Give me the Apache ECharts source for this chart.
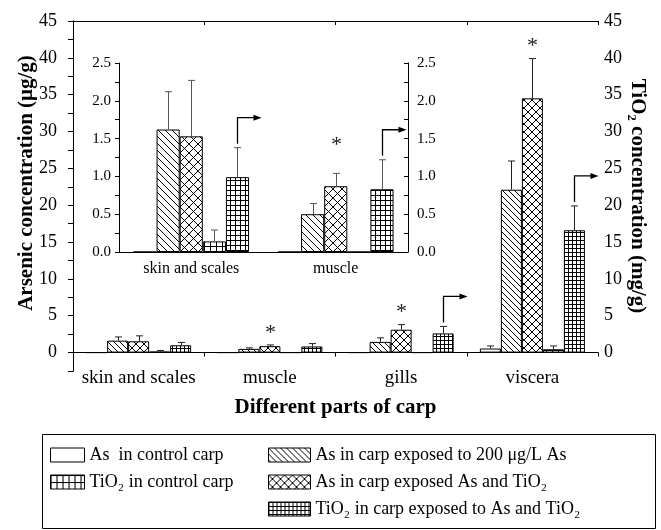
<!DOCTYPE html>
<html><head><meta charset="utf-8">
<script src="https://cdn.jsdelivr.net/npm/echarts@6/dist/echarts.min.js"></script>
<style>html,body{margin:0;padding:0;background:#fff}#c{width:661px;height:530px}</style>
</head><body><div id="c"></div>
<script>
// ---------------- data ----------------
const categories = ['skin and scales', 'muscle', 'gills', 'viscera'];
const insetCategories = ['skin and scales', 'muscle'];
const seriesNames = [
  'As  in control carp',
  'As in carp exposed to 200 μg/L As',
  'As in carp exposed As and TiO₂',
  'TiO₂ in control carp',
  'TiO₂ in carp exposed to As and TiO₂'
];
// mean values (As in μg/g, TiO2 in mg/g)
const asControl   = [0, 0, 0, 0.55];
const asExposed   = [1.62, 0.50, 1.45, 22.1];
const asWithTiO2  = [1.53, 0.87, 3.10, 34.5];
const tio2Control = [0.14, 0, 0, 0.45];
const tio2Exposed = [0.99, 0.83, 2.60, 16.6];
// upper ends of error bars (null = none drawn)
const asControlErr   = [null, null, null, 0.9];
const asExposedErr   = [2.12, 0.64, 2.0, 26.0];
const asWithTiO2Err  = [2.27, 1.04, 3.8, 39.9];
const tio2ControlErr = [0.29, null, null, 0.9];
const tio2ExposedErr = [1.38, 1.22, 3.55, 19.9];
// significance (*) on "As and TiO2" bars, arrows (right axis) on TiO2-exposed bars
const sigMain   = [0, 1, 1, 1];
const arrowMain = [0, 0, 1, 1];
const sigInset   = [0, 1];
const arrowInset = [1, 1];
// axis ticks
const mainTickLabels = [0, 5, 10, 15, 20, 25, 30, 35, 40, 45];
const insetTickLabels = ['0.0', '0.5', '1.0', '1.5', '2.0', '2.5'];

// ---------------- patterns ----------------
function pattern(type, w, h) {
  const c = document.createElement('canvas');
  c.width = w; c.height = h;
  const g = c.getContext('2d');
  g.fillStyle = '#fff'; g.fillRect(0, 0, w, h);
  g.strokeStyle = '#000'; g.lineWidth = 1;
  g.beginPath();
  if (type === 'diag' || type === 'cross') {
    g.moveTo(0, 0); g.lineTo(w, h);
    g.moveTo(-1, h - 1); g.lineTo(1, h + 1);
    g.moveTo(w - 1, -1); g.lineTo(w + 1, 1);
  }
  if (type === 'cross') {
    g.moveTo(0, h); g.lineTo(w, 0);
    g.moveTo(-1, 1); g.lineTo(1, -1);
    g.moveTo(w - 1, h + 1); g.lineTo(w + 1, h - 1);
  }
  if (type === 'grid') {
    g.moveTo(0.5, 0); g.lineTo(0.5, h);
    g.moveTo(0, 0.5); g.lineTo(w, 0.5);
  }
  g.stroke();
  return { image: c, repeat: 'repeat' };
}
const fills = [
  '#fff',
  pattern('diag', 6, 6),
  pattern('cross', 8, 8),
  pattern('grid', 6, 7),
  pattern('grid', 4, 4)
];
const insetFills = [
  '#fff',
  pattern('diag', 7, 7),
  pattern('cross', 9, 9),
  pattern('grid', 6, 6),
  pattern('grid', 5, 5)
];

const FONT = '"Liberation Serif", "Times New Roman", serif';
const mainValues = [asControl, asExposed, asWithTiO2, tio2Control, tio2Exposed];
const mainErrs = [asControlErr, asExposedErr, asWithTiO2Err, tio2ControlErr, tio2ExposedErr];

function errData(catCount, slots, sig, arrow) {
  const out = [];
  for (let i = 0; i < catCount; i++) {
    for (const s of slots) {
      const e = mainErrs[s][i];
      if (e == null) continue;
      out.push([i, s, mainValues[s][i], e, s === 2 ? sig[i] : 0, s === 4 ? arrow[i] : 0]);
    }
  }
  return out;
}

function makeRender(isInset) {
  return function (params, api) {
    const cat = api.value(0), slot = api.value(1), val = api.value(2), err = api.value(3);
    const sig = api.value(4), arr = api.value(5);
    const base = api.coord([cat, val]);
    const band = api.size([1, 0])[0];
    const bw = band * 0.8 / 5;
    const x = Math.round(base[0] + (slot - 2) * bw) + 0.5;
    const top = api.coord([cat, err])[1];
    const col = isInset ? '#555' : '#222';
    const ch = [
      { type: 'line', shape: { x1: x, y1: base[1], x2: x, y2: top }, style: { stroke: col, lineWidth: 1 } },
      { type: 'line', shape: { x1: x - 3.5, y1: top, x2: x + 3.5, y2: top }, style: { stroke: col, lineWidth: 1 } }
    ];
    if (sig) {
      ch.push({ type: 'text', x: x, y: top - (isInset ? 28 : 12),
        style: { text: '*', font: '22px ' + FONT, fill: '#222', align: 'center', verticalAlign: 'middle' } });
    }
    if (arr) {
      const y0 = top - 4, y1 = top - 30, x2 = x + 24;
      ch.push({ type: 'polyline', shape: { points: [[x, y0], [x, y1], [x2 - 6, y1]] }, style: { stroke: '#000', lineWidth: 1.3, fill: null } });
      ch.push({ type: 'polygon', shape: { points: [[x2 - 8, y1 - 3], [x2, y1], [x2 - 8, y1 + 3]] }, style: { fill: '#000' } });
    }
    return { type: 'group', children: ch };
  };
}

const axisLineStyle = { lineStyle: { color: '#000', width: 1 } };
const chart = echarts.init(document.getElementById('c'), null, { renderer: 'canvas' });

const series = [];
mainValues.forEach((vals, s) => {
  series.push({
    name: seriesNames[s], type: 'bar', xAxisIndex: 0, yAxisIndex: s >= 3 ? 1 : 0,
    data: vals, barGap: '0%', barCategoryGap: '20%', silent: true,
    itemStyle: { color: fills[s], borderColor: '#000', borderWidth: 1 }
  });
});
mainValues.forEach((vals, s) => {
  series.push({
    name: seriesNames[s], type: 'bar', xAxisIndex: 3, yAxisIndex: s >= 3 ? 3 : 2,
    data: vals.slice(0, insetCategories.length), barGap: '0%', barCategoryGap: '20%', silent: true,
    itemStyle: { color: insetFills[s], borderColor: '#000', borderWidth: 1 }
  });
});
series.push({ type: 'custom', xAxisIndex: 0, yAxisIndex: 0, z: 5, silent: true, renderItem: makeRender(false), data: errData(4, [0, 1, 2], sigMain, arrowMain) });
series.push({ type: 'custom', xAxisIndex: 0, yAxisIndex: 1, z: 5, silent: true, renderItem: makeRender(false), data: errData(4, [3, 4], sigMain, arrowMain) });
series.push({ type: 'custom', xAxisIndex: 3, yAxisIndex: 2, z: 5, silent: true, renderItem: makeRender(true), data: errData(2, [0, 1, 2], sigInset, arrowInset) });
series.push({ type: 'custom', xAxisIndex: 3, yAxisIndex: 3, z: 5, silent: true, renderItem: makeRender(true), data: errData(2, [3, 4], sigInset, arrowInset) });

const mainFmt = v => (mainTickLabels.indexOf(v) >= 0 ? String(v) : '');
const insetFmt = v => { const t = v.toFixed(1); return (Math.abs(v * 2 - Math.round(v * 2)) < 1e-6 && insetTickLabels.indexOf(t) >= 0) ? t : ''; };

const option = {
  animation: false,
  backgroundColor: '#fff',
  textStyle: { fontFamily: FONT, color: '#000' },
  grid: [
    { left: 73, right: 63, top: 21, bottom: 159 },
    { left: 119, right: 253, top: 63, bottom: 278 }
  ],
  xAxis: [
    { gridIndex: 0, type: 'category', data: categories, position: 'bottom',
      axisLine: axisLineStyle, axisTick: { alignWithLabel: true, length: 6, lineStyle: { color: '#000' } },
      axisLabel: { interval: 0, fontSize: 19, fontFamily: FONT, color: '#000', margin: -2 },
      name: 'Different parts of carp', nameLocation: 'middle', nameGap: 26,
      nameTextStyle: { fontSize: 21, fontWeight: 'bold', fontFamily: FONT, color: '#000' } },
    { gridIndex: 0, type: 'value', min: 0, max: 4, interval: 1, position: 'bottom',
      axisLine: { show: false }, axisTick: { show: true, length: 4, lineStyle: { color: '#000' } },
      axisLabel: { show: false }, splitLine: { show: false } },
    { gridIndex: 0, type: 'value', min: 0, max: 4, interval: 1, position: 'top',
      axisLine: { show: true, onZero: false, lineStyle: { color: '#000' } },
      axisTick: { show: true, inside: true, length: 4, lineStyle: { color: '#000' } },
      axisLabel: { show: false }, splitLine: { show: false } },
    { gridIndex: 1, type: 'category', data: insetCategories, position: 'bottom',
      axisLine: axisLineStyle, axisTick: { alignWithLabel: true, length: 5, lineStyle: { color: '#000' } },
      axisLabel: { interval: 0, fontSize: 16, fontFamily: FONT, color: '#000', margin: 9 } }
  ],
  yAxis: [
    { gridIndex: 0, type: 'value', min: -2.5, max: 45, interval: 2.5, position: 'left',
      axisLine: { show: true, lineStyle: { color: '#000' } },
      axisTick: { show: true, length: 5, lineStyle: { color: '#000' } },
      axisLabel: { formatter: mainFmt, fontSize: 18, fontFamily: FONT, color: '#000', margin: 16 },
      splitLine: { show: false },
      name: 'Arsenic concentration (μg/g)', nameLocation: 'middle', nameGap: 36, nameRotate: 90,
      nameMoveOverlap: false,
      nameTextStyle: { fontSize: 21, fontWeight: 'bold', fontFamily: FONT, color: '#000', padding: [0, 0, 0, 26] } },
    { gridIndex: 0, type: 'value', min: -2.5, max: 45, interval: 2.5, position: 'right',
      axisLine: { show: true, lineStyle: { color: '#000' } },
      axisTick: { show: true, inside: true, length: 5, lineStyle: { color: '#000' } },
      axisLabel: { formatter: mainFmt, fontSize: 18, fontFamily: FONT, color: '#000', margin: 6 },
      splitLine: { show: false },
      name: 'TiO₂ concentration (mg/g)', nameLocation: 'middle', nameGap: 29, nameRotate: -90,
      nameMoveOverlap: false,
      nameTextStyle: { fontSize: 21, fontWeight: 'bold', fontFamily: FONT, color: '#000' } },
    { gridIndex: 1, type: 'value', min: 0, max: 2.5, interval: 0.25, position: 'left',
      axisLine: { show: true, lineStyle: { color: '#000' } },
      axisTick: { show: true, length: 4, lineStyle: { color: '#000' } },
      axisLabel: { formatter: insetFmt, fontSize: 15, fontFamily: FONT, color: '#000', margin: 8 },
      splitLine: { show: false } },
    { gridIndex: 1, type: 'value', min: 0, max: 2.5, interval: 0.25, position: 'right',
      axisLine: { show: true, lineStyle: { color: '#000' } },
      axisTick: { show: true, inside: true, length: 4, lineStyle: { color: '#000' } },
      axisLabel: { formatter: insetFmt, fontSize: 15, fontFamily: FONT, color: '#000', margin: 9 },
      splitLine: { show: false } }
  ],
  legend: [
    { data: [seriesNames[0], seriesNames[3]], orient: 'vertical', left: 45, top: 441,
      itemWidth: 34, itemHeight: 14, itemGap: 9, selectedMode: false,
      icon: 'rect', itemStyle: { borderColor: '#000', borderWidth: 1 },
      textStyle: { fontSize: 18, fontFamily: FONT, color: '#000' } },
    { data: [seriesNames[1], seriesNames[2], seriesNames[4]], orient: 'vertical', left: 263, top: 441,
      itemWidth: 42, itemHeight: 14, itemGap: 9, selectedMode: false,
      icon: 'rect', itemStyle: { borderColor: '#000', borderWidth: 1 },
      textStyle: { fontSize: 18, fontFamily: FONT, color: '#000' } }
  ],
  graphic: [
    { type: 'rect', left: 40, top: 432, shape: { width: 613, height: 94 },
      style: { fill: null, stroke: '#000', lineWidth: 1 }, silent: true }
  ],
  series: series
};
chart.setOption(option);
</script>
</body></html>
